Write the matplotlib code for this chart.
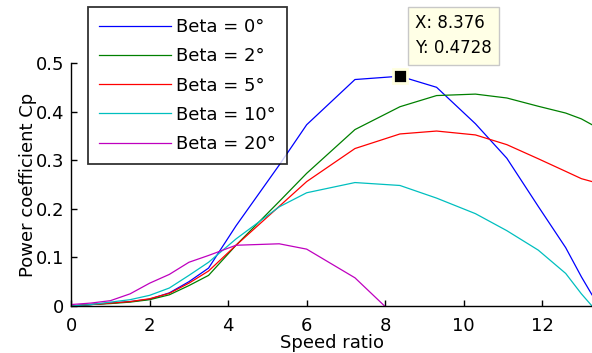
import numpy as np
import matplotlib
matplotlib.use("Agg")
import matplotlib.pyplot as plt
from matplotlib.ticker import FuncFormatter

plt.rcParams['font.family'] = ['DejaVu Sans']

# speed ratio knots (shared by all pitch angles)
speed_ratio = [0, 0.5, 1.0, 1.5, 2.0, 2.5, 3.0, 3.5, 4.2, 5.3, 6.0, 7.23,
               8.376, 9.31, 10.3, 11.1, 11.9, 12.6, 13.0, 13.27]

cp_beta0 = [0.0, 0.003, 0.006, 0.009, 0.014, 0.027, 0.050, 0.078, 0.165, 0.290,
            0.373, 0.466, 0.4728, 0.450, 0.375, 0.304, 0.205, 0.120, 0.060, 0.023]
cp_beta2 = [0.0, 0.003, 0.005, 0.008, 0.013, 0.023, 0.042, 0.063, 0.125, 0.215,
            0.273, 0.363, 0.410, 0.433, 0.436, 0.428, 0.411, 0.397, 0.385, 0.373]
cp_beta5 = [0.0, 0.003, 0.006, 0.009, 0.015, 0.026, 0.047, 0.072, 0.125, 0.205,
            0.256, 0.324, 0.354, 0.360, 0.352, 0.332, 0.303, 0.277, 0.262, 0.256]
cp_beta10 = [0.0, 0.003, 0.008, 0.013, 0.022, 0.037, 0.063, 0.090, 0.138, 0.204,
             0.233, 0.254, 0.248, 0.222, 0.190, 0.155, 0.115, 0.067, 0.025, 0.0]
cp_beta20 = [0.003, 0.006, 0.011, 0.025, 0.047, 0.065, 0.090, 0.104, 0.125, 0.128,
             0.117, 0.058, -0.030, np.nan, np.nan, np.nan, np.nan, np.nan, np.nan, np.nan]

labels = ['Beta = 0°', 'Beta = 2°', 'Beta = 5°', 'Beta = 10°', 'Beta = 20°']
colors = ['#0000ff', '#008000', '#ff0000', '#00bfbf', '#bf00bf']

# datatip on the Beta = 0 curve
tip_x, tip_y = 8.376, 0.4728

fig = plt.figure(figsize=(5.92, 3.53), dpi=100)
ax = fig.add_axes([71.2 / 592, 1 - 306 / 353, 1 - 71.2 / 592, (306 - 63) / 353])

series = [cp_beta0, cp_beta2, cp_beta5, cp_beta10, cp_beta20]
for ys, c, lab in zip(series, colors, labels):
    ax.plot(speed_ratio, ys, color=c, lw=0.9, label=lab)

ax.set_xlim(0, 13.27)
ax.set_ylim(0, 0.5)
ax.set_xticks([0, 2, 4, 6, 8, 10, 12])
ax.set_yticks([0, 0.1, 0.2, 0.3, 0.4, 0.5])
ax.yaxis.set_major_formatter(FuncFormatter(lambda v, p: f'{v:g}'))
ax.tick_params(direction='in', length=4, width=1, labelsize=13)
ax.tick_params(axis='x', pad=8)
ax.tick_params(axis='y', pad=5)
for s in ['top', 'right']:
    ax.spines[s].set_visible(False)
for s in ['left', 'bottom']:
    ax.spines[s].set_linewidth(1)

ax.set_xlabel('Speed ratio', fontsize=13, labelpad=-1)
ax.set_ylabel('Power coefficient Cp', fontsize=13, labelpad=-1)

leg = ax.legend(loc='upper left', bbox_to_anchor=(88 / 592, 1 - 7 / 353),
                bbox_transform=fig.transFigure, fontsize=13, frameon=True,
                fancybox=False, handlelength=3.95, handletextpad=0.3,
                borderpad=0.62, labelspacing=0.62, borderaxespad=0)
leg.get_frame().set_edgecolor('black')
leg.get_frame().set_linewidth(1.3)

# datatip marker and box
ax.plot([tip_x], [tip_y], marker='s', ms=9.5, color='black', mec='#ffffe0',
        mew=2, clip_on=False, zorder=5)
ax.annotate(f'X: {tip_x}\nY: {tip_y}', xy=(tip_x, tip_y), xycoords='data',
            xytext=(415 / 592, 1 - 14 / 353), textcoords='figure fraction',
            ha='left', va='top', fontsize=12, linespacing=1.5,
            bbox=dict(boxstyle='square,pad=0.45', fc='#ffffe6', ec='#c8c8c8', lw=1),
            annotation_clip=False)

fig.savefig('out.png', dpi=100)
